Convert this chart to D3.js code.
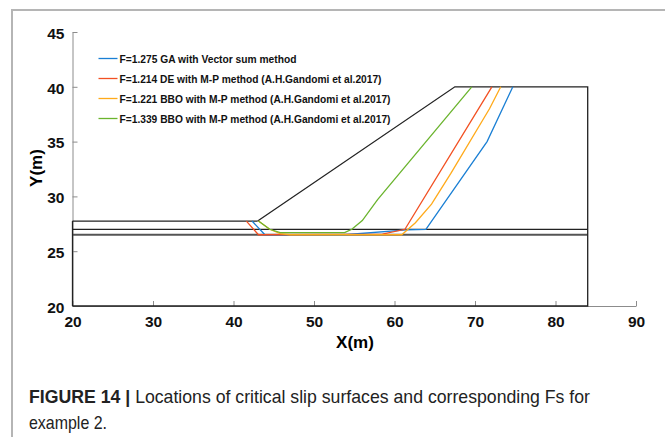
<!DOCTYPE html>
<html>
<head>
<meta charset="utf-8">
<script src="https://cdn.jsdelivr.net/npm/d3@7"></script>
<style>
  body { margin: 0; background: #fff; }
  text { font-family: "Liberation Sans", Arial, sans-serif; }
</style>
</head>
<body>
<div id="chart"></div>
<script>
// 圖表大小
const width = 665;
const height = 437;

// 坡體幾何 (X, Y)
const slopeTop = [[43, 27.75], [67.5, 40], [84, 40], [84, 20], [20, 20]];
const groundLeft = [[20, 27.75], [43, 27.75]];
const layerUpper = [[20, 27], [84, 27]];
const layerLower = [[20, 26.5], [84, 26.5]];

// 滑動面
const seriesNames = [
  "F=1.275 GA with Vector sum method",
  "F=1.214 DE with M-P method (A.H.Gandomi et al.2017)",
  "F=1.221 BBO with M-P method (A.H.Gandomi et al.2017)",
  "F=1.339 BBO with M-P method (A.H.Gandomi et al.2017)"
];
const seriesColors = ["#1a7fd4", "#f25022", "#ffaa1a", "#6ab42d"];
const blueSlip = [[42.3, 27.75], [43.9, 26.5], [53.8, 26.5], [61.5, 26.95], [63.9, 27], [71.5, 35], [74.7, 40]];
const redSlip = [[41.6, 27.75], [43.1, 26.5], [58.5, 26.55], [61.3, 27], [72.1, 40]];
const orangeSlip = [[43.1, 27.75], [44.5, 27], [45.8, 26.6], [47, 26.5], [60.9, 26.5], [62.6, 27.6], [64.6, 29.3], [67, 32.1], [71.8, 38], [73.2, 40]];
const greenSlip = [[43.1, 27.75], [44.5, 27], [45.8, 26.7], [53.8, 26.7], [54.7, 27], [56, 27.8], [57.9, 29.7], [69.6, 40]];
const slips = [blueSlip, redSlip, orangeSlip, greenSlip];

// 刻度
const xTicks = [20, 30, 40, 50, 60, 70, 80, 90];
const yTicks = [20, 25, 30, 35, 40, 45];

// 圖例文字寬度 (字型較窄)
const legendTextWidth = [177, 262, 271, 271];

const svg = d3.select("#chart")
  .append("svg")
  .attr("width", width)
  .attr("height", height);

// 外框
svg.append("rect")
  .attr("x", 12).attr("y", 10)
  .attr("width", 700).attr("height", 500)
  .attr("fill", "none")
  .attr("stroke", "#b5b5b5")
  .attr("stroke-width", 2);

const x = d3.scaleLinear().domain([20, 90]).range([72.5, 636]);
const y = d3.scaleLinear().domain([20, 45]).range([306, 32]);

// 座標軸
const xAxis = svg.append("g")
  .attr("transform", `translate(0,${y(20)})`)
  .call(d3.axisBottom(x).tickValues(xTicks).tickSizeInner(-5).tickSizeOuter(0).tickPadding(10));
const yAxis = svg.append("g")
  .attr("transform", `translate(${x(20)},0)`)
  .call(d3.axisLeft(y).tickValues(yTicks).tickSizeInner(-5).tickSizeOuter(0).tickPadding(8));

[xAxis, yAxis].forEach(function (g) {
  g.select(".domain").attr("stroke", "#8c8c8c");
  g.selectAll(".tick line").attr("stroke", "#8c8c8c");
  g.selectAll(".tick text")
    .attr("fill", "#111")
    .attr("font-size", 15.5)
    .attr("font-weight", "bold");
});
yAxis.selectAll(".tick text").attr("dy", "0.4em");

const line = d3.line()
  .x(d => x(d[0]))
  .y(d => y(d[1]));

// 坡體
svg.append("path").attr("d", line(layerLower))
  .attr("fill", "none").attr("stroke", "#555").attr("stroke-width", 2);
[slopeTop, groundLeft, layerUpper, [[20, 20], [20, 27.75]]].forEach(function (d) {
  svg.append("path").attr("d", line(d))
    .attr("fill", "none").attr("stroke", "#222").attr("stroke-width", 1.3);
});

// 滑動面
svg.selectAll("path.slip")
  .data(slips)
  .enter()
  .append("path")
  .attr("class", "slip")
  .attr("d", line)
  .attr("fill", "none")
  .attr("stroke", (d, i) => seriesColors[i])
  .attr("stroke-width", 1.3);

// 圖例
const legend = svg.append("g");
seriesNames.forEach(function (name, i) {
  const ly = 58.5 + i * 20;
  legend.append("line")
    .attr("x1", 98.5).attr("x2", 117.5)
    .attr("y1", ly).attr("y2", ly)
    .attr("stroke", seriesColors[i]).attr("stroke-width", 1.3);
  legend.append("text")
    .attr("x", 119.5).attr("y", ly + 4.2)
    .attr("font-size", 11.5)
    .attr("font-weight", "bold")
    .attr("textLength", legendTextWidth[i])
    .attr("lengthAdjust", "spacingAndGlyphs")
    .attr("fill", "#111")
    .text(name);
});

// 軸標題
svg.append("text")
  .attr("transform", `translate(42,168) rotate(-90)`)
  .attr("text-anchor", "middle")
  .attr("font-size", 17).attr("font-weight", "bold")
  .text("Y(m)");
svg.append("text")
  .attr("x", 355).attr("y", 348)
  .attr("text-anchor", "middle")
  .attr("font-size", 17).attr("font-weight", "bold")
  .text("X(m)");

// 圖說
const cap = svg.append("text")
  .attr("x", 29).attr("y", 403)
  .attr("font-size", 18.5)
  .attr("textLength", 561)
  .attr("lengthAdjust", "spacingAndGlyphs")
  .attr("fill", "#222");
cap.append("tspan").attr("font-weight", "bold").text("FIGURE 14 | ");
cap.append("tspan").text("Locations of critical slip surfaces and corresponding Fs for");
svg.append("text")
  .attr("x", 29).attr("y", 429)
  .attr("font-size", 18.5)
  .attr("textLength", 78)
  .attr("lengthAdjust", "spacingAndGlyphs")
  .attr("fill", "#222")
  .text("example 2.");
</script>
</body>
</html>
